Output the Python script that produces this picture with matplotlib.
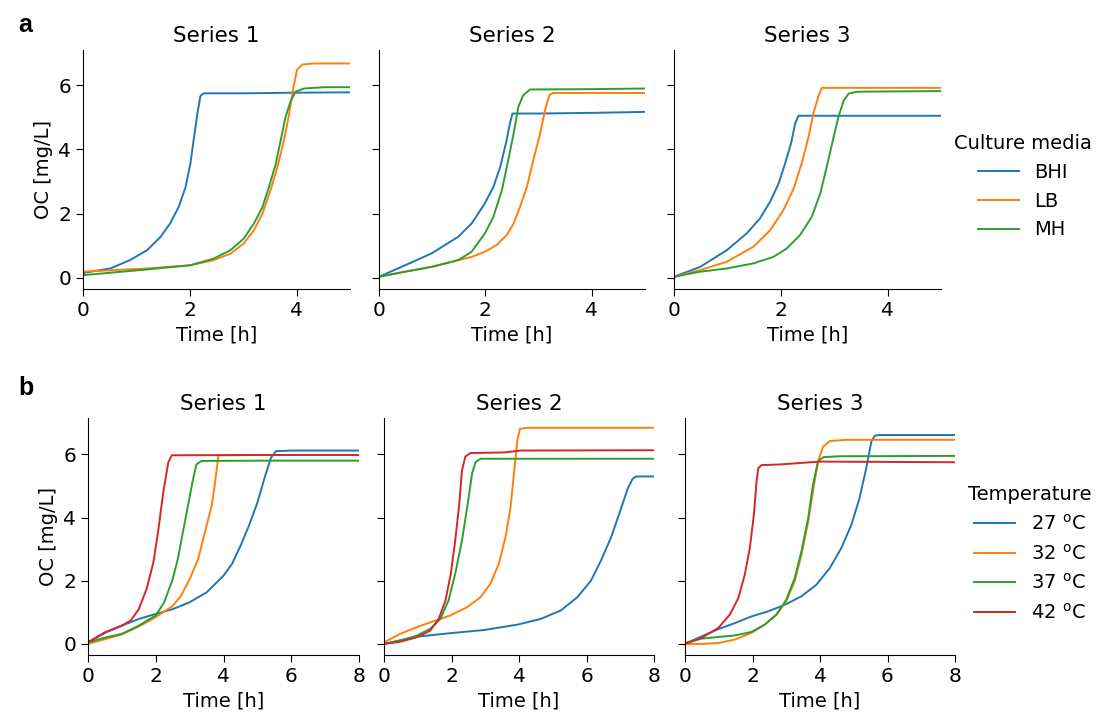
import matplotlib
matplotlib.use("Agg")
import matplotlib.pyplot as plt

# --- a: culture media (time in h, OC in mg/L) ---
media = ["BHI", "LB", "MH"]

a1_bhi_t = [0, 0.51, 0.88, 1.2, 1.45, 1.63, 1.79, 1.92, 2.01, 2.07, 2.14, 2.2, 2.26, 3, 4, 5]
a1_bhi_v = [0.15, 0.29, 0.55, 0.86, 1.27, 1.69, 2.2, 2.82, 3.55, 4.27, 5.1, 5.67, 5.75, 5.75, 5.77, 5.78]
a1_lb_t = [0, 1.2, 2.01, 2.45, 2.76, 3.01, 3.2, 3.36, 3.51, 3.64, 3.76, 3.86, 3.94, 4.01, 4.11, 4.33, 5]
a1_lb_v = [0.19, 0.29, 0.39, 0.55, 0.75, 1.07, 1.48, 2.0, 2.72, 3.44, 4.27, 5.1, 5.93, 6.49, 6.65, 6.68, 6.68]
a1_mh_t = [0, 1.2, 2.01, 2.45, 2.76, 3.01, 3.2, 3.36, 3.48, 3.61, 3.7, 3.79, 3.89, 3.98, 4.14, 4.51, 5]
a1_mh_v = [0.08, 0.26, 0.39, 0.6, 0.86, 1.22, 1.69, 2.2, 2.82, 3.55, 4.27, 5.0, 5.51, 5.8, 5.9, 5.94, 5.94]

a2_bhi_t = [0, 0.49, 0.99, 1.49, 1.74, 1.99, 2.15, 2.28, 2.4, 2.46, 2.51, 3, 4, 5]
a2_bhi_v = [0.03, 0.39, 0.76, 1.28, 1.69, 2.32, 2.83, 3.46, 4.29, 4.81, 5.12, 5.12, 5.14, 5.17]
a2_lb_t = [0, 0.49, 0.99, 1.49, 1.74, 1.99, 2.21, 2.4, 2.53, 2.65, 2.78, 2.9, 3.03, 3.12, 3.2, 3.27, 4, 5]
a2_lb_v = [0.03, 0.19, 0.34, 0.55, 0.65, 0.81, 1.02, 1.33, 1.69, 2.21, 2.83, 3.67, 4.5, 5.22, 5.69, 5.76, 5.76, 5.76]
a2_mh_t = [0, 0.49, 0.99, 1.49, 1.74, 1.99, 2.15, 2.31, 2.43, 2.53, 2.62, 2.71, 2.84, 4, 5]
a2_mh_v = [0.03, 0.19, 0.34, 0.55, 0.81, 1.38, 1.9, 2.73, 3.67, 4.5, 5.33, 5.69, 5.87, 5.88, 5.9]

a3_bhi_t = [0, 0.49, 0.99, 1.36, 1.61, 1.8, 1.96, 2.08, 2.19, 2.27, 2.33, 3, 4, 5]
a3_bhi_v = [0.03, 0.34, 0.86, 1.38, 1.85, 2.37, 2.94, 3.56, 4.18, 4.81, 5.05, 5.05, 5.05, 5.05]
a3_lb_t = [0, 0.49, 0.99, 1.49, 1.8, 2.05, 2.24, 2.39, 2.52, 2.61, 2.71, 2.77, 4, 5]
a3_lb_v = [0.03, 0.24, 0.5, 0.97, 1.48, 2.11, 2.78, 3.56, 4.39, 5.12, 5.69, 5.92, 5.92, 5.92]
a3_mh_t = [0, 0.49, 0.99, 1.49, 1.86, 2.11, 2.36, 2.58, 2.74, 2.86, 2.99, 3.08, 3.18, 3.27, 3.43, 5]
a3_mh_v = [0.03, 0.19, 0.29, 0.45, 0.65, 0.91, 1.33, 1.9, 2.63, 3.46, 4.39, 5.02, 5.53, 5.74, 5.8, 5.82]

# --- b: temperature ---
temps = ["27 $^{\\mathrm{o}}$C", "32 $^{\\mathrm{o}}$C", "37 $^{\\mathrm{o}}$C", "42 $^{\\mathrm{o}}$C"]

b1_27_t = [0, 0.5, 1.0, 1.5, 2.0, 2.5, 3.0, 3.5, 4.0, 4.25, 4.5, 4.75, 5.0, 5.2, 5.4, 5.55, 6, 8]
b1_27_v = [0.05, 0.35, 0.58, 0.79, 0.95, 1.1, 1.32, 1.63, 2.16, 2.53, 3.1, 3.74, 4.47, 5.21, 5.89, 6.1, 6.12, 6.12]
b1_32_t = [0, 0.5, 1.0, 1.5, 2.0, 2.5, 2.75, 3.0, 3.25, 3.5, 3.65, 3.75, 3.85, 5, 8]
b1_32_v = [0.0, 0.15, 0.3, 0.55, 0.85, 1.2, 1.53, 2.05, 2.68, 3.74, 4.37, 5.1, 5.97, 5.98, 5.98]
b1_37_t = [0, 0.5, 1.0, 1.5, 2.0, 2.25, 2.5, 2.65, 2.8, 2.95, 3.1, 3.2, 3.35, 5, 8]
b1_37_v = [0.05, 0.2, 0.32, 0.58, 0.9, 1.32, 2.05, 2.68, 3.53, 4.37, 5.21, 5.68, 5.79, 5.8, 5.8]
b1_42_t = [0, 0.5, 1.0, 1.26, 1.5, 1.73, 1.93, 2.08, 2.22, 2.37, 2.47, 5, 8]
b1_42_v = [0.05, 0.37, 0.58, 0.74, 1.1, 1.74, 2.58, 3.63, 4.79, 5.74, 5.97, 5.98, 5.98]

b2_27_t = [0, 0.97, 1.96, 2.96, 3.95, 4.64, 5.24, 5.73, 6.13, 6.43, 6.73, 6.97, 7.22, 7.37, 7.47, 8]
b2_27_v = [0.0, 0.23, 0.34, 0.44, 0.61, 0.79, 1.06, 1.48, 2.0, 2.64, 3.38, 4.12, 4.91, 5.23, 5.3, 5.3]
b2_32_t = [0, 0.48, 0.97, 1.47, 1.96, 2.46, 2.86, 3.15, 3.4, 3.6, 3.75, 3.85, 3.95, 4.03, 4.25, 8]
b2_32_v = [0.05, 0.32, 0.53, 0.72, 0.9, 1.16, 1.48, 1.9, 2.53, 3.38, 4.33, 5.39, 6.44, 6.81, 6.84, 6.84]
b2_37_t = [0, 0.48, 0.97, 1.37, 1.67, 1.91, 2.11, 2.31, 2.48, 2.61, 2.71, 2.86, 8]
b2_37_v = [0.0, 0.11, 0.26, 0.48, 0.79, 1.37, 2.22, 3.27, 4.43, 5.39, 5.75, 5.86, 5.86]
b2_42_t = [0, 0.48, 0.97, 1.37, 1.62, 1.82, 1.98, 2.11, 2.23, 2.31, 2.41, 2.56, 3.55, 4.05, 8]
b2_42_v = [0.0, 0.07, 0.21, 0.42, 0.79, 1.37, 2.22, 3.27, 4.43, 5.49, 5.93, 6.04, 6.06, 6.12, 6.13]

b3_27_t = [0, 0.49, 0.99, 1.48, 1.97, 2.46, 2.96, 3.45, 3.89, 4.29, 4.63, 4.93, 5.17, 5.37, 5.52, 5.62, 5.76, 8]
b3_27_v = [0.0, 0.24, 0.47, 0.66, 0.87, 1.03, 1.24, 1.51, 1.87, 2.4, 3.03, 3.77, 4.61, 5.56, 6.4, 6.59, 6.61, 6.61]
b3_32_t = [0, 0.49, 0.99, 1.48, 1.97, 2.36, 2.71, 3.0, 3.25, 3.45, 3.65, 3.79, 3.94, 4.09, 4.29, 4.78, 8]
b3_32_v = [0.0, 0.0, 0.03, 0.14, 0.35, 0.61, 0.93, 1.35, 1.98, 2.82, 3.87, 4.82, 5.77, 6.24, 6.42, 6.46, 6.46]
b3_37_t = [0, 0.49, 0.99, 1.48, 1.97, 2.36, 2.71, 3.0, 3.25, 3.45, 3.65, 3.79, 3.94, 4.09, 4.58, 8]
b3_37_v = [0.03, 0.17, 0.22, 0.27, 0.38, 0.61, 0.93, 1.4, 2.08, 2.93, 3.98, 5.03, 5.77, 5.91, 5.94, 5.95]
b3_42_t = [0, 0.49, 0.99, 1.33, 1.58, 1.77, 1.92, 2.04, 2.12, 2.17, 2.27, 2.81, 3.99, 8]
b3_42_v = [0.0, 0.19, 0.51, 0.93, 1.45, 2.19, 3.03, 4.08, 5.14, 5.56, 5.66, 5.68, 5.77, 5.75]

a_panels = [
    ("Series 1", [(a1_bhi_t, a1_bhi_v), (a1_lb_t, a1_lb_v), (a1_mh_t, a1_mh_v)]),
    ("Series 2", [(a2_bhi_t, a2_bhi_v), (a2_lb_t, a2_lb_v), (a2_mh_t, a2_mh_v)]),
    ("Series 3", [(a3_bhi_t, a3_bhi_v), (a3_lb_t, a3_lb_v), (a3_mh_t, a3_mh_v)]),
]
b_panels = [
    ("Series 1", [(b1_27_t, b1_27_v), (b1_32_t, b1_32_v), (b1_37_t, b1_37_v), (b1_42_t, b1_42_v)]),
    ("Series 2", [(b2_27_t, b2_27_v), (b2_32_t, b2_32_v), (b2_37_t, b2_37_v), (b2_42_t, b2_42_v)]),
    ("Series 3", [(b3_27_t, b3_27_v), (b3_32_t, b3_32_v), (b3_37_t, b3_37_v), (b3_42_t, b3_42_v)]),
]

colors = ["#1f77b4", "#ff7f0e", "#2ca02c", "#d62728"]
plt.rcParams["font.family"] = "DejaVu Sans"

fig = plt.figure(figsize=(11, 7.17), dpi=100)
W, H = 1100, 717

def make_ax(l, r, t, b):
    # axes box given in pixels of the 1100x717 figure
    ax = fig.add_axes([l / W, 1 - b / H, (r - l) / W, (b - t) / H])
    ax.spines["top"].set_visible(False)
    ax.spines["right"].set_visible(False)
    ax.tick_params(labelsize=14.5, length=5)
    return ax

def draw_row(panels, labels, pos, top, bottom, xmax, xticks, ymax, leg_title, leg_y):
    for i, (name, curves) in enumerate(panels):
        ax = make_ax(pos[i][0], pos[i][1], top, bottom)
        for j, (x, y) in enumerate(curves):
            ax.plot(x, y, color=colors[j], lw=1.4, label=labels[j])
        ax.set_xlim(0, xmax)
        ax.set_ylim(-0.35, ymax)
        ax.set_xticks(xticks)
        ax.set_yticks([0, 2, 4, 6])
        ax.set_title(name, fontsize=15.5)
        ax.set_xlabel("Time [h]", fontsize=14)
        if i == 0:
            ax.set_ylabel("OC [mg/L]", fontsize=14)
        else:
            ax.set_yticklabels([])
        if i == len(panels) - 1:
            ax.legend(title=leg_title, loc="upper left", bbox_to_anchor=(1.02, leg_y),
                      frameon=False, fontsize=14, title_fontsize=14, handlelength=2.1,
                      borderaxespad=0)

draw_row(a_panels, media, [(83, 350), (379, 645), (674, 941)], 50, 289,
         5, [0, 2, 4], 7.1, "Culture media", 0.68)
draw_row(b_panels, temps, [(88, 359), (384, 654), (685, 955)], 418, 655,
         8, [0, 2, 4, 6, 8], 7.15, "Temperature", 0.75)

fig.text(18 / W, 1 - 25 / H, "a", fontsize=18, fontweight="bold",
         family="Liberation Sans", va="center")
fig.text(18 / W, 1 - 388 / H, "b", fontsize=18, fontweight="bold",
         family="Liberation Sans", va="center")

fig.savefig("out.png", dpi=100)
